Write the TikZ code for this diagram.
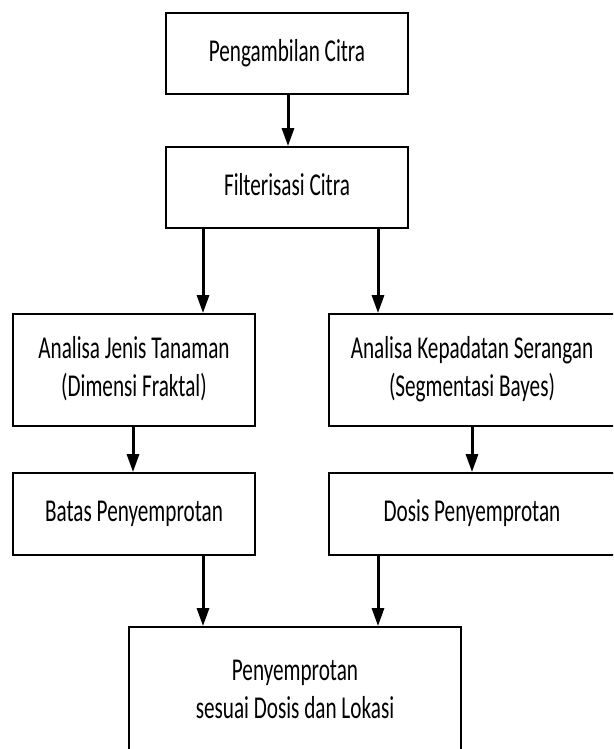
\documentclass[tikz,border=0pt]{standalone}
\usepackage{fontspec}
\usepackage{graphicx}
\setmainfont{Carlito}
\usetikzlibrary{arrows.meta}
\newcommand{\stretchtext}[1]{\scalebox{1}[1.5]{\begin{tabular}{@{}c@{}}#1\end{tabular}}}
\begin{document}
\begin{tikzpicture}[x=1pt,y=-1pt,
  box/.style={draw=black,line width=1.8pt,fill=white,inner sep=0pt,align=center,
    font=\fontsize{21.2}{25.5}\selectfont},
  arr/.style={line width=3pt,-{Triangle[width=12pt,length=18pt]}}]
\clip (0,0) rectangle (613,749);
\fill[white] (0,0) rectangle (613,749);
\node[box,minimum width=242pt,minimum height=81pt] (b1) at (287,53.5) {\stretchtext{Pengambilan Citra}};
\node[box,minimum width=242pt,minimum height=81pt] (b2) at (287,187.5) {\stretchtext{Filterisasi Citra}};
\node[box,minimum width=242pt,minimum height=112pt] (b3) at (134,370) {\stretchtext{Analisa Jenis Tanaman\\(Dimensi Fraktal)}};
\node[box,minimum width=286pt,minimum height=112pt] (b4) at (472,370) {\stretchtext{Analisa Kepadatan Serangan\\(Segmentasi Bayes)}};
\node[box,minimum width=242pt,minimum height=82pt] (b5) at (134,514) {\stretchtext{Batas Penyemprotan}};
\node[box,minimum width=286pt,minimum height=82pt] (b6) at (472,514) {\stretchtext{Dosis Penyemprotan}};
\node[box,minimum width=332pt,minimum height=130pt] (b7) at (295,692) {\stretchtext{Penyemprotan\\sesuai Dosis dan Lokasi}};
\draw[arr] ([xshift=1pt]b1.south) -- ([xshift=1pt]b1.south |- b2.north);
\draw[arr] ([xshift=-84pt]b2.south) -- ([xshift=-84pt]b2.south |- b3.north);
\draw[arr] ([xshift=91pt]b2.south) -- ([xshift=91pt]b2.south |- b4.north);
\draw[arr] ([xshift=-1pt]b3.south) -- ([xshift=-1pt]b3.south |- b5.north);
\draw[arr] (b4.south) -- (b4.south |- b6.north);
\draw[arr] ([xshift=69pt]b5.south) -- ([xshift=69pt]b5.south |- b7.north);
\draw[arr] ([xshift=-94pt]b6.south) -- ([xshift=-94pt]b6.south |- b7.north);
\end{tikzpicture}
\end{document}
